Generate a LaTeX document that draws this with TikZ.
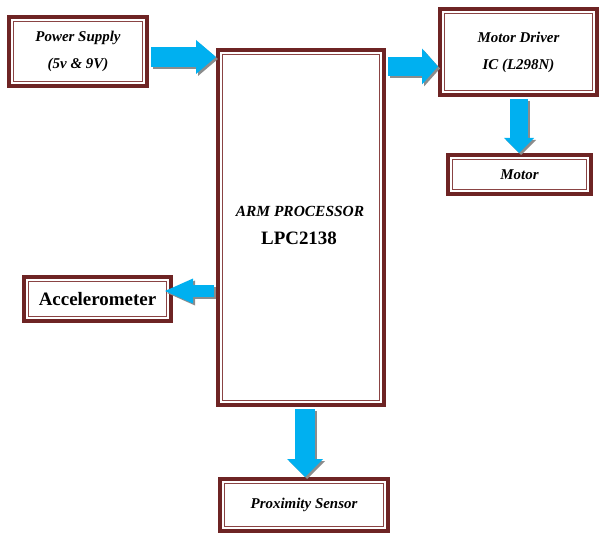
\documentclass[tikz,border=0pt]{standalone}
\usepackage{fontspec}
\setmainfont{Liberation Serif}
\usetikzlibrary{arrows.meta}
\definecolor{brd}{HTML}{6E2424}
\definecolor{brdin}{HTML}{8A4444}
\definecolor{arr}{HTML}{00B0F0}
\definecolor{shd}{HTML}{8C8C8C}
\begin{document}
\begin{tikzpicture}[x=1bp,y=-1bp,
  box/.style={draw=brd, line width=4bp, fill=white, inner sep=0pt, align=center,
    font=\fontsize{15}{27}\selectfont\bfseries\itshape,
    path picture={\draw[brdin, line width=1bp]
      ([shift={(4.5bp,-4.5bp)}]path picture bounding box.north west) rectangle
      ([shift={(-4.5bp,4.5bp)}]path picture bounding box.south east);}},
  bar/.style n args={3}{draw=arr, line width=#1, -{Triangle[length=#2, width=#3, line width=0pt]}},
  shadowed/.style={draw=shd, transform canvas={shift={(2bp,-2bp)}}},
  lbl/.style={inner sep=0pt}
]
\useasboundingbox (0,0) rectangle (600,533);

% boxes
\node[box, minimum width=138bp, minimum height=69bp] (ps) at (78,51.5) {Power Supply\\(5v \& 9V)};
\node[box, minimum width=166bp, minimum height=355bp] (cpu) at (301,227.5) {};
\node[lbl, font=\fontsize{15.5}{18}\selectfont\bfseries\itshape] (cput) at (300,211) {ARM PROCESSOR};
\node[lbl, font=\fontsize{19}{22}\selectfont\bfseries] (lpc) at (299,238) {LPC2138};
\node[box, minimum width=157bp, minimum height=86bp] (md) at (518.5,52) {Motor Driver\\IC (L298N)};
\node[box, minimum width=143bp, minimum height=39bp] (motor) at (519.5,174.5) {Motor};
\node[box, minimum width=147bp, minimum height=44bp, font=\fontsize{19}{22}\selectfont\bfseries] (acc) at (97.5,299) {Accelerometer};
\node[box, minimum width=168bp, minimum height=52bp] (prox) at (304,505) {Proximity Sensor};

% arrow levels
\coordinate (y1) at (0,57);
\coordinate (y2) at (0,66.5);
\coordinate (x3) at (519,0);
\coordinate (y4) at (0,291);
\coordinate (x5) at (305,0);

% shadows
\draw[bar={20bp}{20bp}{34bp}, shadowed, shorten <=2bp] (ps.east |- y1) -- (cpu.west |- y1);
\draw[bar={19bp}{16bp}{36bp}, shadowed, shorten <=2bp] (cpu.east |- y2) -- (md.west |- y2);
\draw[bar={18bp}{15bp}{30bp}, shadowed, shorten <=2bp] (md.south -| x3) -- (motor.north -| x3);
\draw[bar={12bp}{28bp}{25bp}, shadowed, shorten <=2bp, shorten >=-8bp] (cpu.west |- y4) -- (acc.east |- y4);
\draw[bar={20bp}{18bp}{36bp}, shadowed, shorten <=2bp] (cpu.south -| x5) -- (prox.north -| x5);

% arrows
\draw[bar={20bp}{20bp}{34bp}, shorten <=2bp] (ps.east |- y1) -- (cpu.west |- y1);
\draw[bar={19bp}{16bp}{36bp}, shorten <=2bp] (cpu.east |- y2) -- (md.west |- y2);
\draw[bar={18bp}{15bp}{30bp}, shorten <=2bp] (md.south -| x3) -- (motor.north -| x3);
\draw[bar={12bp}{28bp}{25bp}, shorten <=2bp, shorten >=-8bp] (cpu.west |- y4) -- (acc.east |- y4);
\draw[bar={20bp}{18bp}{36bp}, shorten <=2bp] (cpu.south -| x5) -- (prox.north -| x5);
\end{tikzpicture}
\end{document}
